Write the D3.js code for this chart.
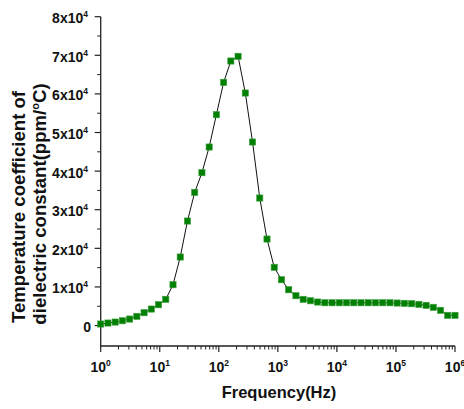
<!DOCTYPE html>
<html>
<head>
<meta charset="utf-8">
<script src="https://cdn.jsdelivr.net/npm/d3@7"></script>
<style>
  html, body { margin: 0; padding: 0; background: #fff; }
  svg text { font-family: "Liberation Sans", Arial, sans-serif; font-weight: bold; fill: #111; }
</style>
</head>
<body>
<svg id="chart" width="464" height="409"></svg>
<script>
// Frequency sweep (Hz), log-spaced points
const freqHz = [1, 1.326, 1.758, 2.330, 3.089, 4.095, 5.429, 7.197, 9.541, 12.65,
  16.77, 22.23, 29.47, 39.07, 51.79, 68.66, 91.03, 120.7, 160.0, 212.1,
  281.2, 372.8, 494.2, 655.1, 868.5, 1151, 1526, 2024, 2683, 3556,
  4715, 6251, 8286, 10985, 14563, 19307, 25595, 33932, 44984, 59636,
  79060, 104811, 138950, 184207, 244205, 323746, 429193, 568987, 754312, 1000000];

// Temperature coefficient of dielectric constant (ppm/°C)
const tcValues = [390, 650, 900, 1240, 1680, 2380, 3320, 4270, 5390, 6790,
  10570, 17750, 27070, 34500, 39590, 46240, 54610, 63000, 68520, 69740,
  60230, 47540, 33030, 22410, 15080, 11870, 9270, 7720, 6790, 6420,
  6090, 5900, 5900, 5900, 5900, 5900, 5900, 5900, 5900, 5900,
  5900, 5830, 5750, 5650, 5490, 5230, 4720, 3940, 2640, 2640];

// Axis ticks
const yTickMantissa = [0, 1, 2, 3, 4, 5, 6, 7, 8];
const yTickExponent = 4;
const xTickExponents = [0, 1, 2, 3, 4, 5, 6];

const xTitle = "Frequency(Hz)";
const yTitleLine1 = "Temperature coefficient of";
const yTitleLine2a = "dielectric constant(ppm/";
const yTitleLine2b = "C)";

const svg = d3.select("#chart");

const x = d3.scaleLog().domain([1, 1e6]).range([100.7, 455]);
const y = d3.scaleLinear().domain([-5300, 80000]).range([346, 16.7]);

const axisColor = "#222";

// X axis: baseline, major decade ticks and minor ticks
const gx = svg.append("g");
gx.append("line")
  .attr("x1", x(1)).attr("x2", x(1e6))
  .attr("y1", y(-5300)).attr("y2", y(-5300))
  .attr("stroke", axisColor).attr("stroke-width", 1.3);

const minorX = [];
for (let e = 0; e < 6; e++) for (let m = 2; m <= 9; m++) minorX.push(m * Math.pow(10, e));
gx.selectAll("line.minor").data(minorX).join("line")
  .attr("class", "minor")
  .attr("x1", d => x(d)).attr("x2", d => x(d))
  .attr("y1", y(-5300)).attr("y2", y(-5300) + 3.5)
  .attr("stroke", axisColor).attr("stroke-width", 1);
gx.selectAll("line.major").data(xTickExponents).join("line")
  .attr("class", "major")
  .attr("x1", d => x(Math.pow(10, d))).attr("x2", d => x(Math.pow(10, d)))
  .attr("y1", y(-5300)).attr("y2", y(-5300) + 6)
  .attr("stroke", axisColor).attr("stroke-width", 1.2);

const xl = gx.selectAll("text.xl").data(xTickExponents).join("text")
  .attr("class", "xl")
  .attr("x", d => x(Math.pow(10, d)))
  .attr("y", 372)
  .attr("text-anchor", "middle")
  .attr("font-size", 14);
xl.append("tspan").text("10");
xl.append("tspan").attr("dy", -6).attr("font-size", 8.5).text(d => d);

// Y axis: vertical line, major and half-step ticks
const gy = svg.append("g");
gy.append("line")
  .attr("x1", x(1)).attr("x2", x(1))
  .attr("y1", y(80000)).attr("y2", y(-5300))
  .attr("stroke", axisColor).attr("stroke-width", 1.3);

const minorY = yTickMantissa.slice(0, -1).map(m => (m + 0.5) * 1e4);
gy.selectAll("line.minor").data(minorY).join("line")
  .attr("class", "minor")
  .attr("x1", x(1)).attr("x2", x(1) - 3.5)
  .attr("y1", d => y(d)).attr("y2", d => y(d))
  .attr("stroke", axisColor).attr("stroke-width", 1);
gy.selectAll("line.major").data(yTickMantissa).join("line")
  .attr("class", "major")
  .attr("x1", x(1)).attr("x2", x(1) - 6)
  .attr("y1", d => y(d * 1e4)).attr("y2", d => y(d * 1e4))
  .attr("stroke", axisColor).attr("stroke-width", 1.2);

const yl = gy.selectAll("text.yl").data(yTickMantissa).join("text")
  .attr("class", "yl")
  .attr("x", 88)
  .attr("y", d => y(d * 1e4) + 6.5)
  .attr("text-anchor", "end")
  .attr("font-size", 14);
yl.each(function(d) {
  const t = d3.select(this);
  if (d === 0) { t.text("0"); t.attr("x", 91); return; }
  t.append("tspan").text(d + "x10");
  t.append("tspan").attr("dy", -6).attr("font-size", 8.5).text(yTickExponent);
});

// Data line and square markers
const pts = freqHz.map((f, i) => [f, tcValues[i]]);
svg.append("path")
  .datum(pts)
  .attr("fill", "none")
  .attr("stroke", "#111")
  .attr("stroke-width", 1)
  .attr("d", d3.line().x(d => x(d[0])).y(d => y(d[1])));

const ms = 6.2;
svg.selectAll("rect.pt").data(pts).join("rect")
  .attr("class", "pt")
  .attr("x", d => x(d[0]) - ms / 2)
  .attr("y", d => y(d[1]) - ms / 2)
  .attr("width", ms).attr("height", ms)
  .attr("fill", "#008000")
  .attr("stroke", "#3c9f3c")
  .attr("stroke-width", 0.6);

// Axis titles
svg.append("text")
  .attr("x", 279).attr("y", 398)
  .attr("text-anchor", "middle")
  .attr("font-size", 16.5)
  .text(xTitle);

svg.append("text")
  .attr("transform", "translate(25,207) rotate(-90)")
  .attr("text-anchor", "middle")
  .attr("font-size", 18.6)
  .text(yTitleLine1);

const t2 = svg.append("text")
  .attr("transform", "translate(46,204) rotate(-90)")
  .attr("text-anchor", "middle")
  .attr("font-size", 18.6);
t2.append("tspan").text(yTitleLine2a);
t2.append("tspan").attr("dy", -7).attr("font-size", 11).text("o");
t2.append("tspan").attr("dy", 7).text(yTitleLine2b);
</script>
</body>
</html>
